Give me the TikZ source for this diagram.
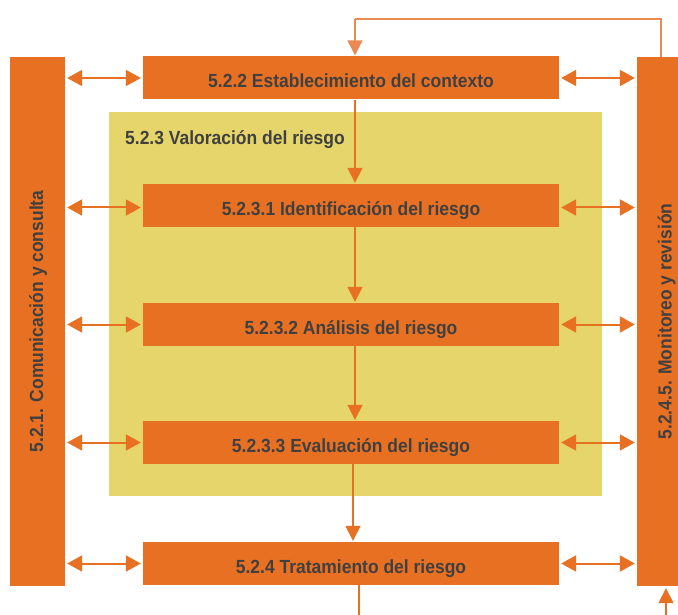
\documentclass[tikz,border=0pt]{standalone}
\usepackage{fontspec}
\setmainfont[FakeStretch=0.92]{Liberation Sans}
\usetikzlibrary{arrows.meta}
\definecolor{org}{HTML}{E87022}
\definecolor{ylw}{HTML}{E6D56A}
\definecolor{txt}{HTML}{404040}
\definecolor{fbl}{HTML}{EA8A52}
\begin{document}
\begin{tikzpicture}[x=1pt,y=-1pt,
  lbl/.style={font=\bfseries\fontsize{19}{19}\selectfont, text=txt},
  box/.style={lbl, fill=org, minimum width=416pt, minimum height=43pt, inner sep=0pt, text height=20pt, text depth=0pt},
  bar/.style={lbl, fill=org, rotate=90, minimum width=529pt, inner sep=0pt, text depth=0pt},
  tip/.style={-{Triangle[length=15pt,width=15pt]}},
  dbl/.style={{Triangle[length=15pt,width=16pt]}-{Triangle[length=15pt,width=16pt]}, draw=org, line width=2pt, shorten >=2pt, shorten <=2pt},
  vline/.style={draw=org, line width=1.6pt, tip, shorten >=1pt},
  fbline/.style={draw=fbl, line width=1.5pt}
]
\clip (0,0) rectangle (678,615);
\fill[white] (0,0) rectangle (678,615);
\fill[ylw] (109,112) rectangle (602,496);

\node[bar, minimum height=55pt, text height=11pt] (lbar) at (37.5,321.5) {5.2.1. Comunicación y consulta};
\node[bar, minimum height=52pt, text height=17pt] (rbar) at (663,321.5) {5.2.4.5. Monitoreo y revisión};

\node[box] (ctx) at (351,78) {5.2.2 Establecimiento del contexto};
\node[box] (ide) at (351,205.5) {5.2.3.1 Identificación del riesgo};
\node[box] (ana) at (351,324.5) {5.2.3.2 Análisis del riesgo};
\node[box] (eva) at (351,442.5) {5.2.3.3 Evaluación del riesgo};
\node[box] (tra) at (351,563.5) {5.2.4 Tratamiento del riesgo};

% double arrows
\foreach \n/\y in {ctx/0, ide/-2, ana/0, eva/0, tra/0}{
  \draw[dbl] ([yshift=\y pt]\n.west -| lbar.south) -- ([yshift=\y pt]\n.west);
  \draw[dbl] ([yshift=\y pt]\n.east) -- ([yshift=\y pt]\n.east -| rbar.north);
}

% vertical arrows
\coordinate (v1) at ([xshift=4pt]ctx.south);
\coordinate (v2) at ([xshift=4pt]ide.south);
\coordinate (v3) at ([xshift=4pt]ana.south);
\coordinate (v4) at ([xshift=2pt]eva.south);
\draw[vline] (v1) -- (v1 |- ide.north);
\draw[vline] (v2) -- (v2 |- ana.north);
\draw[vline] (v3) -- (v3 |- eva.north);
\draw[vline] (v4) -- (v4 |- tra.north);

\node[lbl, fill=ylw, anchor=base west, inner xsep=5pt, inner ysep=3pt] (val) at (120,145) {5.2.3 Valoración del riesgo};

% feedback loop
\coordinate (fb) at (0,19);
\coordinate (r1) at ([xshift=-2pt]rbar.east);
\draw[fbline] (r1) -- (r1 |- fb) -- (v1 |- fb);
\draw[fbline, draw=fbl, tip, shorten >=1pt] (v1 |- fb) -- (v1 |- ctx.north);

% bottom lines
\coordinate (b1) at (359,615);
\draw[draw=org, line width=1.5pt] (tra.south -| b1) -- (b1);
\coordinate (b2) at (666,615);
\draw[vline, shorten >=2pt] (b2) -- (b2 |- rbar.west);
\end{tikzpicture}
\end{document}
